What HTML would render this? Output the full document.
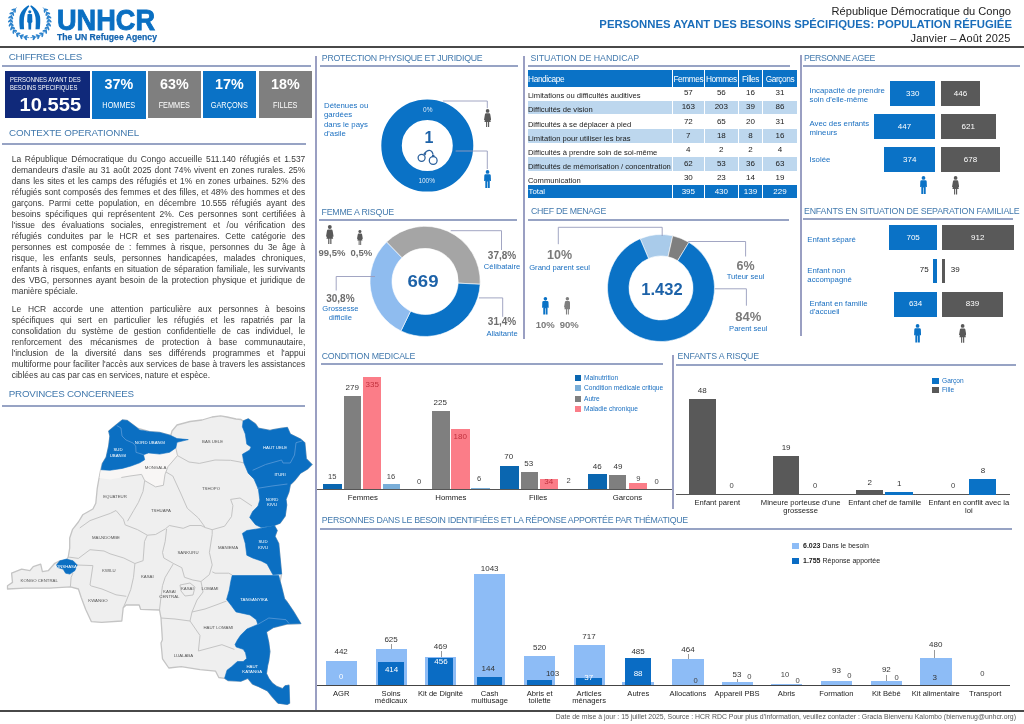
<!DOCTYPE html>
<html lang="fr">
<head>
<meta charset="utf-8">
<title>UNHCR - Personnes ayant des besoins spécifiques</title>
<style>
*{margin:0;padding:0;box-sizing:border-box}
html,body{width:1024px;height:724px;overflow:hidden;background:#fff}
body{position:relative;font-family:"Liberation Sans",Arial,sans-serif;color:#222}
.a{position:absolute;white-space:nowrap}
.t{position:absolute;white-space:nowrap;font-size:10px;line-height:10px;color:#4279ad;letter-spacing:-0.1px}
.ul{position:absolute;height:2px;background:#97a3c4}
.vs{position:absolute;width:2px;background:#9a9fc2}
.hl{position:absolute;background:#8a9ac4}
.box{position:absolute;color:#fff;text-align:center}
.bx{position:absolute}
.para div{height:11px;line-height:11px;white-space:nowrap;text-align:justify;text-align-last:justify}
.para div.l{text-align-last:left}
.lbl{position:absolute;white-space:nowrap;font-size:8px;line-height:9px;color:#1a6fc0}
.num{position:absolute;white-space:nowrap;font-size:8px;line-height:8px;color:#333;text-align:center}
</style>
</head>
<body>

<!-- ================= HEADER ================= -->
<svg class="a" style="left:5px;top:2px" width="50" height="40" viewBox="5 2 50 40">
 <g fill="none" stroke="#2b82cc" stroke-width="0.8"><path d="M16.50 7.50 C9.50 14.50 8.50 25.00 15.00 32.00"/><path d="M43.10 7.50 C50.10 14.50 51.10 25.00 44.60 32.00"/><path d="M15.00 32.00 C19.00 36.00 24.00 37.60 29.20 37.60"/><path d="M44.60 32.00 C40.60 36.00 35.60 37.60 30.40 37.60"/></g>
 <g fill="#2b82cc"><ellipse cx="14.97" cy="10.84" rx="2.05" ry="0.95" transform="rotate(88.7 14.97 10.84)"/><ellipse cx="13.37" cy="9.56" rx="2.05" ry="0.95" transform="rotate(168.7 13.37 9.56)"/><ellipse cx="13.11" cy="14.12" rx="2.05" ry="0.95" transform="rotate(77.6 13.11 14.12)"/><ellipse cx="11.29" cy="13.16" rx="2.05" ry="0.95" transform="rotate(157.6 11.29 13.16)"/><ellipse cx="11.99" cy="17.56" rx="2.05" ry="0.95" transform="rotate(66.1 11.99 17.56)"/><ellipse cx="10.01" cy="16.99" rx="2.05" ry="0.95" transform="rotate(146.1 10.01 16.99)"/><ellipse cx="11.63" cy="21.05" rx="2.05" ry="0.95" transform="rotate(54.1 11.63 21.05)"/><ellipse cx="9.57" cy="20.90" rx="2.05" ry="0.95" transform="rotate(134.1 9.57 20.90)"/><ellipse cx="12.03" cy="24.47" rx="2.05" ry="0.95" transform="rotate(41.5 12.03 24.47)"/><ellipse cx="9.99" cy="24.77" rx="2.05" ry="0.95" transform="rotate(121.5 9.99 24.77)"/><ellipse cx="13.19" cy="27.70" rx="2.05" ry="0.95" transform="rotate(28.2 13.19 27.70)"/><ellipse cx="11.28" cy="28.47" rx="2.05" ry="0.95" transform="rotate(108.2 11.28 28.47)"/><ellipse cx="15.13" cy="30.66" rx="2.05" ry="0.95" transform="rotate(14.8 15.13 30.66)"/><ellipse cx="13.45" cy="31.85" rx="2.05" ry="0.95" transform="rotate(94.8 13.45 31.85)"/><ellipse cx="18.46" cy="33.57" rx="2.05" ry="0.95" transform="rotate(-2.4 18.46 33.57)"/><ellipse cx="17.21" cy="35.20" rx="2.05" ry="0.95" transform="rotate(77.6 17.21 35.20)"/><ellipse cx="22.05" cy="35.40" rx="2.05" ry="0.95" transform="rotate(-15.7 22.05 35.40)"/><ellipse cx="21.20" cy="37.27" rx="2.05" ry="0.95" transform="rotate(64.3 21.20 37.27)"/><ellipse cx="26.00" cy="36.39" rx="2.05" ry="0.95" transform="rotate(-28.4 26.00 36.39)"/><ellipse cx="25.59" cy="38.40" rx="2.05" ry="0.95" transform="rotate(51.6 25.59 38.40)"/><ellipse cx="44.63" cy="10.84" rx="2.05" ry="0.95" transform="rotate(91.3 44.63 10.84)"/><ellipse cx="46.23" cy="9.56" rx="2.05" ry="0.95" transform="rotate(11.3 46.23 9.56)"/><ellipse cx="46.49" cy="14.12" rx="2.05" ry="0.95" transform="rotate(102.4 46.49 14.12)"/><ellipse cx="48.31" cy="13.16" rx="2.05" ry="0.95" transform="rotate(22.4 48.31 13.16)"/><ellipse cx="47.61" cy="17.56" rx="2.05" ry="0.95" transform="rotate(113.9 47.61 17.56)"/><ellipse cx="49.59" cy="16.99" rx="2.05" ry="0.95" transform="rotate(33.9 49.59 16.99)"/><ellipse cx="47.97" cy="21.05" rx="2.05" ry="0.95" transform="rotate(125.9 47.97 21.05)"/><ellipse cx="50.03" cy="20.90" rx="2.05" ry="0.95" transform="rotate(45.9 50.03 20.90)"/><ellipse cx="47.57" cy="24.47" rx="2.05" ry="0.95" transform="rotate(138.5 47.57 24.47)"/><ellipse cx="49.61" cy="24.77" rx="2.05" ry="0.95" transform="rotate(58.5 49.61 24.77)"/><ellipse cx="46.41" cy="27.70" rx="2.05" ry="0.95" transform="rotate(151.8 46.41 27.70)"/><ellipse cx="48.32" cy="28.47" rx="2.05" ry="0.95" transform="rotate(71.8 48.32 28.47)"/><ellipse cx="44.47" cy="30.66" rx="2.05" ry="0.95" transform="rotate(165.2 44.47 30.66)"/><ellipse cx="46.15" cy="31.85" rx="2.05" ry="0.95" transform="rotate(85.2 46.15 31.85)"/><ellipse cx="41.14" cy="33.57" rx="2.05" ry="0.95" transform="rotate(182.4 41.14 33.57)"/><ellipse cx="42.39" cy="35.20" rx="2.05" ry="0.95" transform="rotate(102.4 42.39 35.20)"/><ellipse cx="37.55" cy="35.40" rx="2.05" ry="0.95" transform="rotate(195.7 37.55 35.40)"/><ellipse cx="38.40" cy="37.27" rx="2.05" ry="0.95" transform="rotate(115.7 38.40 37.27)"/><ellipse cx="33.60" cy="36.39" rx="2.05" ry="0.95" transform="rotate(208.4 33.60 36.39)"/><ellipse cx="34.01" cy="38.40" rx="2.05" ry="0.95" transform="rotate(128.4 34.01 38.40)"/></g>
 <g fill="#0a6fc2">
  <path d="M28.6 5.2 C24 7.8 20.3 12 19.5 17 C19.1 21 19.4 25 19.9 29.3 L24.1 29.3 C23.8 25 23.7 21 24.1 17.5 C24.7 13.5 26.6 9.5 29.3 6.3Z"/>
  <path d="M31 5.2 C35.6 7.8 39.3 12 40.1 17 C40.5 21 40.2 25 39.7 29.3 L35.5 29.3 C35.8 25 35.9 21 35.5 17.5 C34.9 13.5 33 9.5 30.3 6.3Z"/>
  <circle cx="29.8" cy="11.7" r="1.55"/>
  <path d="M27.5 14.2 Q29.8 13.1 32.1 14.2 L32.4 22 L31.3 23 L31.1 29.6 L28.5 29.6 L28.3 23 L27.2 22Z"/>
 </g>
</svg>
<div class="a" style="left:56.5px;top:3.5px;font-size:29.5px;line-height:32px;font-weight:bold;color:#0a6fc2;-webkit-text-stroke:0.9px #0a6fc2;transform:scaleX(0.92);transform-origin:0 0">UNHCR</div>
<div class="a" style="left:57px;top:31.5px;font-size:9.6px;line-height:10px;font-weight:bold;color:#1565b0;-webkit-text-stroke:0.25px #1565b0;transform:scaleX(0.9);transform-origin:0 0">The UN Refugee Agency</div>

<div class="a" style="right:13px;top:5px;font-size:11.1px;line-height:12px;color:#222">République Démocratique du Congo</div>
<div class="a" style="right:12px;top:17.5px;font-size:11.35px;line-height:12px;font-weight:bold;color:#1a6dba">PERSONNES AYANT DES BESOINS SPÉCIFIQUES: POPULATION RÉFUGIÉE</div>
<div class="a" style="right:13.5px;top:31.5px;font-size:11px;line-height:12px;letter-spacing:0.14px;color:#222">Janvier – Août 2025</div>
<div class="bx" style="left:0;top:46.3px;width:1024px;height:1.8px;background:#484848"></div>


<!-- ================= LEFT COLUMN ================= -->
<div class="t" style="left:8.8px;top:52.1px;font-size:9.8px;letter-spacing:-0.32px">CHIFFRES CLES</div>
<div class="ul" style="left:2px;top:64.5px;width:309px"></div>

<div class="bx" style="left:4.5px;top:70.5px;width:85.5px;height:47px;background:#10297a"></div>
<div class="a" style="left:9.6px;top:75.66px;font-size:7.2px;line-height:8.6px;color:#fff;transform:scaleX(0.82);transform-origin:0 0">PERSONNES AYANT DES<br>BESOINS SPECIFIQUES</div>
<div class="a" style="left:4.5px;width:85.5px;top:94.62px;font-size:19px;line-height:20px;color:#fff;font-weight:bold;text-align:center;padding-left:5px;transform:scaleX(1.06)">10.555</div>
<div class="bx" style="left:92px;top:70.8px;width:53.6px;height:47.8px;background:#0a72c6"></div>
<div class="a" style="left:92px;width:53.6px;top:76.19px;font-size:15.4px;line-height:16px;color:#fff;font-weight:bold;text-align:center;transform:scaleX(0.93)">37%</div>
<div class="a" style="left:92px;width:53.6px;top:100.84px;font-size:8.5px;line-height:9px;color:#fff;text-align:center;transform:scaleX(0.86)">HOMMES</div>
<div class="bx" style="left:148px;top:70.8px;width:52.6px;height:47.0px;background:#7f7f7f"></div>
<div class="a" style="left:148px;width:52.6px;top:76.19px;font-size:15.4px;line-height:16px;color:#fff;font-weight:bold;text-align:center;transform:scaleX(0.93)">63%</div>
<div class="a" style="left:148px;width:52.6px;top:100.84px;font-size:8.5px;line-height:9px;color:#fff;text-align:center;transform:scaleX(0.86)">FEMMES</div>
<div class="bx" style="left:203.4px;top:70.8px;width:52.6px;height:47.5px;background:#0a72c6"></div>
<div class="a" style="left:203.4px;width:52.6px;top:76.19px;font-size:15.4px;line-height:16px;color:#fff;font-weight:bold;text-align:center;transform:scaleX(0.93)">17%</div>
<div class="a" style="left:203.4px;width:52.6px;top:100.84px;font-size:8.5px;line-height:9px;color:#fff;text-align:center;transform:scaleX(0.86)">GARÇONS</div>
<div class="bx" style="left:259px;top:70.8px;width:52.6px;height:47.0px;background:#7f7f7f"></div>
<div class="a" style="left:259px;width:52.6px;top:76.19px;font-size:15.4px;line-height:16px;color:#fff;font-weight:bold;text-align:center;transform:scaleX(0.93)">18%</div>
<div class="a" style="left:259px;width:52.6px;top:100.84px;font-size:8.5px;line-height:9px;color:#fff;text-align:center;transform:scaleX(0.86)">FILLES</div>

<div class="t" style="left:9px;top:127.6px;font-size:9.8px;letter-spacing:-0.1px">CONTEXTE OPERATIONNEL</div>
<div class="ul" style="left:2px;top:143px;width:303.5px"></div>

<div class="para a" style="left:11.7px;top:153.5px;width:293.6px;font-size:8.45px;color:#3a3a3a;white-space:normal">
<div>La République Démocratique du Congo accueille 511.140 réfugiés et 1.537</div>
<div>demandeurs d'asile au 31 août 2025 dont 74% vivent en zones rurales. 25%</div>
<div>dans les sites et les camps des réfugiés et 1% en zones urbaines. 52% des</div>
<div>réfugiés sont composés des femmes et des filles, et 48% des hommes et des</div>
<div>garçons. Parmi cette population, en décembre 10.555 réfugiés ayant des</div>
<div>besoins spécifiques qui représentent 2%. Ces personnes sont certifiées à</div>
<div>l'issue des évaluations sociales, enregistrement et /ou vérification des</div>
<div>réfugiés conduites par le HCR et ses partenaires. Cette catégorie des</div>
<div>personnes est composée de : femmes à risque, personnes du 3e âge à</div>
<div>risque, les enfants seuls, personnes handicapées, malades chroniques,</div>
<div>enfants à risques, enfants en situation de séparation familiale, les survivants</div>
<div>des VBG, personnes ayant besoin de la protection physique et juridique de</div>
<div class="l">manière spéciale.</div>
<div style="height:7px"></div>
<div>Le HCR accorde une attention particulière aux personnes à besoins</div>
<div>spécifiques qui sert en particulier les réfugiés et les rapatriés par la</div>
<div>consolidation du système de gestion confidentielle de cas individuel, le</div>
<div>renforcement des mécanismes de protection à base communautaire,</div>
<div>l'inclusion de la diversité dans ses différends programmes et l'appui</div>
<div>multiforme pour faciliter l'accès aux services de base à travers les assistances</div>
<div class="l">ciblées au cas par cas en services, nature et espèce.</div>
</div>

<div class="t" style="left:8.75px;top:388.6px;font-size:9.8px;letter-spacing:-0.22px">PROVINCES CONCERNEES</div>
<div class="ul" style="left:2px;top:405px;width:303px"></div>


<!--MAP-->
<svg class="a" style="left:0;top:0" width="320" height="710" viewBox="0 0 320 710">
<polygon points="108.7,431.0 116.0,425.0 122.3,420.0 127.3,420.5 137.3,428.0 149.7,431.7 159.7,432.4 170.8,435.5 172.0,431.0 177.0,425.0 190.0,421.5 202.0,420.0 212.0,417.0 220.6,415.9 227.0,417.0 236.0,419.0 241.0,419.5 243.1,421.0 248.2,418.8 255.5,423.9 258.4,428.2 270.0,430.4 272.9,429.7 281.6,428.2 287.4,427.5 290.3,434.0 300.5,439.1 304.8,442.7 306.3,458.7 312.0,464.5 307.7,468.9 300.5,473.2 294.7,480.5 290.3,484.8 288.9,492.0 286.0,499.3 286.7,505.0 285.2,516.0 280.1,523.2 274.3,525.4 277.2,530.5 275.0,536.3 278.7,543.5 280.1,558.0 281.6,574.0 280.1,581.3 281.6,587.0 284.5,598.7 287.5,602.5 293.8,611.9 300.8,623.6 287.0,624.0 273.4,627.5 266.4,632.0 268.7,642.3 269.9,651.6 268.7,660.9 267.6,665.5 266.4,673.6 268.7,678.3 272.2,683.0 276.8,686.4 282.6,688.7 285.0,685.8 289.0,685.2 289.6,703.2 287.3,704.4 278.0,703.2 272.2,696.8 267.6,691.0 258.3,686.4 252.5,684.1 247.8,678.3 240.9,681.2 228.1,680.6 224.6,678.3 218.8,677.5 215.6,671.2 200.0,669.7 181.2,666.6 168.8,668.0 162.5,658.8 161.0,643.0 162.4,639.8 161.0,618.0 159.5,610.0 140.6,609.3 139.2,605.0 126.1,605.0 123.2,607.9 121.8,621.0 101.6,622.4 91.4,621.7 85.6,609.3 81.3,597.7 78.4,589.0 70.4,586.9 49.8,588.2 24.9,588.2 7.5,589.0 7.5,585.7 12.5,582.4 11.6,573.2 21.6,569.1 29.9,570.7 33.2,566.6 40.7,564.1 42.4,571.6 48.2,570.7 54.8,563.3 59.8,560.8 66.0,561.3 68.2,557.0 69.7,548.2 69.7,538.0 72.6,529.3 78.4,522.0 82.7,514.8 92.9,509.0 95.8,503.2 97.2,488.7 98.7,480.0 100.6,470.3 102.4,463.5 106.2,457.2 108.7,446.0 109.9,436.1" fill="#efefef" stroke="#c4c4c4" stroke-width="1.3" stroke-linejoin="round"/>
<polygon points="100.6,470.3 109.9,470.3 122.3,468.4 131.0,466.0 139.7,462.8 144.7,459.7 143.5,454.7 148.5,452.9 159.7,454.1 169.6,452.3 175.8,447.9 177.5,455.6 172.0,462.0 168.0,466.6 165.0,474.4 163.4,485.3 155.6,486.9 144.7,480.6 141.6,474.4 130.0,476.0 121.3,477.5 110.0,479.5 99.5,478.0" fill="#f8f6f5" stroke="none"/>
<g fill="none" stroke="#c4c4c4" stroke-width="1" stroke-linejoin="round">
<polyline points="121.3,477.5 130.0,476.0 141.6,474.4 144.7,480.6 155.6,486.9 163.4,485.3 165.0,474.4 168.0,466.6 172.0,462.0 177.5,455.6 175.8,447.9"/>
<polyline points="177.5,455.6 189.0,462.0 199.4,463.4 215.0,460.0 230.6,460.3 240.0,462.0 243.9,463.0"/>
<polyline points="144.7,480.6 143.0,491.5 138.4,502.5 133.8,510.3 127.5,521.2"/>
<polyline points="166.0,472.0 172.8,476.0 180.6,493.0 187.3,508.3 198.4,518.0 205.3,527.6"/>
<polyline points="252.0,506.0 246.0,502.0 240.0,498.0 230.6,499.4 232.9,505.5 231.5,516.6 224.6,526.2 212.2,529.7"/>
<polyline points="125.2,524.9 137.6,529.7 147.3,535.2 155.6,534.5 165.2,529.0 169.4,525.5 183.2,528.3 190.0,525.5 201.0,525.5 205.3,527.6 212.2,529.7"/>
<polyline points="79.8,527.9 90.0,520.6 100.0,517.0 110.3,513.4 116.0,510.5 123.4,519.2 125.2,524.9"/>
<polyline points="68.2,557.0 78.4,558.4 90.0,549.7 104.0,551.0 110.0,553.8 123.8,558.0 134.9,563.5 143.1,560.7"/>
<polyline points="147.3,535.2 144.5,541.4 143.1,560.7"/>
<polyline points="134.9,563.5 133.5,577.3 130.7,589.7 126.6,600.0 123.2,607.9"/>
<polyline points="76.9,565.0 92.9,565.6 90.0,585.0 91.4,586.0 102.0,589.0 116.0,594.8 126.3,596.3"/>
<polyline points="70.4,586.9 71.1,577.4 73.0,573.0"/>
<polyline points="166.6,529.0 165.2,541.4 162.5,552.5 163.8,558.0 173.5,563.5 181.8,567.7 184.5,577.3 192.8,580.0 201.0,581.5 209.4,574.6 212.2,564.9 209.4,552.5 212.2,534.5 212.2,529.7"/>
<polyline points="173.5,563.5 165.2,577.3 162.5,585.6 161.0,596.6 159.5,610.0"/>
<polyline points="161.0,618.0 175.0,619.0 190.0,621.0 200.0,635.5 198.4,651.0 221.9,644.7 234.4,649.4"/>
<polyline points="190.0,621.0 192.0,612.0 205.0,609.0 216.0,605.0 226.6,601.0"/>
<polyline points="201.0,581.5 203.0,592.0 197.0,600.0 192.0,612.0"/>
<polyline points="212.2,571.8 215.0,573.2 228.7,573.2 232.2,575.0"/>
<polygon points="180.0,585.0 190.0,583.0 195.0,587.0 193.0,595.0 185.0,596.0 181.0,591.0"/>
</g>
<g fill="#0b6fc2" stroke="#0b6fc2" stroke-width="0.6" stroke-linejoin="round">
<polygon points="108.7,431.1 116.0,425.0 122.3,419.9 127.3,420.5 137.3,428.0 139.7,429.9 149.7,431.7 159.7,432.4 170.8,435.5 177.0,438.6 188.3,439.6 177.0,442.3 175.8,447.9 169.6,452.3 159.7,454.1 148.5,452.9 143.5,454.7 144.7,459.7 139.7,462.8 131.0,466.0 122.3,468.4 109.9,470.3 101.2,469.7 102.4,463.5 106.2,457.2 108.7,446.0 109.9,436.1"/>
<polygon points="243.1,421.0 248.2,418.8 255.5,423.9 258.4,428.2 270.0,430.4 272.9,429.7 281.6,428.2 287.4,427.5 290.3,434.0 300.5,439.1 304.8,442.7 306.3,458.7 312.0,464.5 307.7,468.9 300.5,473.2 294.7,480.5 290.3,484.8 288.9,492.0 286.0,499.3 286.7,505.0 285.2,516.0 280.1,523.2 274.3,525.4 261.3,527.6 255.5,524.7 249.7,517.4 252.6,511.6 258.0,506.0 259.8,500.0 258.4,489.2 254.0,479.0 248.2,473.2 243.9,463.0 242.4,454.3 249.7,450.0 251.1,447.0 246.8,444.2 245.3,434.0 242.4,426.8"/>
<polygon points="261.3,528.3 274.3,525.4 277.2,530.5 275.0,536.3 278.7,543.5 280.1,558.0 281.6,574.0 272.9,574.7 267.0,563.9 261.3,561.0 252.6,558.0 246.8,555.2 245.3,543.5 242.4,533.4 246.8,530.5"/>
<polygon points="232.2,575.5 278.7,575.5 280.1,581.3 281.6,587.0 284.5,598.7 287.5,602.5 293.8,611.9 300.8,623.6 287.0,624.0 273.4,627.5 266.4,632.0 268.7,642.3 269.9,651.6 268.7,660.9 267.6,665.5 266.4,673.6 268.7,678.3 272.2,683.0 276.8,686.4 282.6,688.7 285.0,685.8 289.0,685.2 289.6,703.2 287.3,704.4 278.0,703.2 272.2,696.8 267.6,691.0 258.3,686.4 252.5,684.1 247.8,678.3 240.9,681.2 228.1,680.6 224.6,678.3 227.0,670.2 231.6,666.7 237.4,661.5 243.2,661.5 246.7,658.6 245.5,652.8 243.2,649.3 236.2,647.0 235.0,644.6 237.4,640.0 240.6,635.3 246.9,629.0 257.8,624.4 256.3,619.7 250.0,615.0 236.0,611.9 231.3,605.6 226.6,599.4 229.3,590.0 230.8,581.3"/>
<polygon points="56.5,564.9 59.8,560.8 66.4,559.1 73.1,560.8 77.2,564.9 74.8,570.7 69.8,574.1 65.6,573.2 63.1,569.1 57.3,567.4"/>
</g>
<g fill="none" stroke="#5b9ad8" stroke-width="0.8">
<polyline points="116.7,425.5 121.0,428.0 122.0,436.0 126.0,440.0 133.0,443.0 135.7,446.0 136.0,452.3 143.5,454.7"/>
<polyline points="252.6,470.3 265.6,464.5 281.6,460.0 283.0,463.0 290.3,463.0 294.5,455.0 296.0,442.7 302.0,441.0"/>
<polyline points="257.0,488.4 272.0,486.0 287.4,484.0"/>
<polyline points="257.8,624.4 268.8,618.0 286.0,619.7 289.0,623.5"/>
</g>
<text x="150" y="444" fill="#ffffff" font-size="4.3" text-anchor="middle" font-family="Liberation Sans, sans-serif">NORD UBANGI</text>
<text x="118" y="451" fill="#ffffff" font-size="4.3" text-anchor="middle" font-family="Liberation Sans, sans-serif">SUD</text>
<text x="118" y="456.5" fill="#ffffff" font-size="4.3" text-anchor="middle" font-family="Liberation Sans, sans-serif">UBANGI</text>
<text x="212.6" y="443" fill="#555" font-size="4.3" text-anchor="middle" font-family="Liberation Sans, sans-serif">BAS UELE</text>
<text x="275" y="449" fill="#ffffff" font-size="4.3" text-anchor="middle" font-family="Liberation Sans, sans-serif">HAUT UELE</text>
<text x="280" y="476" fill="#ffffff" font-size="4.3" text-anchor="middle" font-family="Liberation Sans, sans-serif">ITURI</text>
<text x="272" y="500.5" fill="#ffffff" font-size="4.3" text-anchor="middle" font-family="Liberation Sans, sans-serif">NORD</text>
<text x="272" y="506" fill="#ffffff" font-size="4.3" text-anchor="middle" font-family="Liberation Sans, sans-serif">KIVU</text>
<text x="263" y="543" fill="#ffffff" font-size="4.3" text-anchor="middle" font-family="Liberation Sans, sans-serif">SUD</text>
<text x="263" y="548.5" fill="#ffffff" font-size="4.3" text-anchor="middle" font-family="Liberation Sans, sans-serif">KIVU</text>
<text x="211" y="489.5" fill="#555" font-size="4.3" text-anchor="middle" font-family="Liberation Sans, sans-serif">TSHOPO</text>
<text x="155.6" y="469" fill="#555" font-size="4.3" text-anchor="middle" font-family="Liberation Sans, sans-serif">MONGALA</text>
<text x="115" y="498" fill="#555" font-size="4.3" text-anchor="middle" font-family="Liberation Sans, sans-serif">EQUATEUR</text>
<text x="161" y="512" fill="#555" font-size="4.3" text-anchor="middle" font-family="Liberation Sans, sans-serif">TSHUAPA</text>
<text x="106" y="539" fill="#555" font-size="4.3" text-anchor="middle" font-family="Liberation Sans, sans-serif">MAI-NDOMBE</text>
<text x="188" y="553.5" fill="#555" font-size="4.3" text-anchor="middle" font-family="Liberation Sans, sans-serif">SANKURU</text>
<text x="228" y="549.3" fill="#555" font-size="4.3" text-anchor="middle" font-family="Liberation Sans, sans-serif">MANIEMA</text>
<text x="66" y="568" fill="#ffffff" font-size="4.3" text-anchor="middle" font-family="Liberation Sans, sans-serif">KINSHASA</text>
<text x="108.9" y="571.7" fill="#555" font-size="4.3" text-anchor="middle" font-family="Liberation Sans, sans-serif">KWILU</text>
<text x="147.3" y="578.3" fill="#555" font-size="4.3" text-anchor="middle" font-family="Liberation Sans, sans-serif">KASAI</text>
<text x="169.4" y="593" fill="#555" font-size="4.3" text-anchor="middle" font-family="Liberation Sans, sans-serif">KASAI</text>
<text x="169.4" y="598" fill="#555" font-size="4.3" text-anchor="middle" font-family="Liberation Sans, sans-serif">CENTRAL</text>
<text x="187.3" y="589.5" fill="#555" font-size="4.3" text-anchor="middle" font-family="Liberation Sans, sans-serif">KASAI</text>
<text x="210" y="589.5" fill="#555" font-size="4.3" text-anchor="middle" font-family="Liberation Sans, sans-serif">LOMAMI</text>
<text x="254" y="601" fill="#ffffff" font-size="4.3" text-anchor="middle" font-family="Liberation Sans, sans-serif">TANGANYIKA</text>
<text x="39.2" y="581.7" fill="#555" font-size="4.3" text-anchor="middle" font-family="Liberation Sans, sans-serif">KONGO CENTRAL</text>
<text x="98" y="602.3" fill="#555" font-size="4.3" text-anchor="middle" font-family="Liberation Sans, sans-serif">KWANGO</text>
<text x="218.3" y="628.5" fill="#555" font-size="4.3" text-anchor="middle" font-family="Liberation Sans, sans-serif">HAUT LOMAMI</text>
<text x="183.4" y="656.7" fill="#555" font-size="4.3" text-anchor="middle" font-family="Liberation Sans, sans-serif">LUALABA</text>
<text x="252.3" y="667.5" fill="#ffffff" font-size="4.3" text-anchor="middle" font-family="Liberation Sans, sans-serif">HAUT</text>
<text x="252.3" y="673" fill="#ffffff" font-size="4.3" text-anchor="middle" font-family="Liberation Sans, sans-serif">KATANGA</text>
</svg>
<!--/MAP-->
<div class="t" style="left:321.8px;top:52.85px;font-size:8.8px;letter-spacing:-0.26px;transform:scaleY(1.12);transform-origin:0 8.05px">PROTECTION PHYSIQUE ET JURIDIQUE</div>
<div class="ul" style="left:319.5px;top:65px;width:198px"></div>
<svg class="a" style="left:0;top:0;overflow:visible" width="1" height="1">
<circle cx="427.3" cy="145.6" r="35.75" fill="none" stroke="#0a72c6" stroke-width="20.5"/>
</svg>
<div class="a" style="left:427.80px;top:109.50px;font-size:6.5px;line-height:7.47px;color:#dbe9f7;transform:translate(-50%,-50%);">0%</div>
<div class="a" style="left:426.70px;top:181.00px;font-size:6.5px;line-height:7.47px;color:#dbe9f7;transform:translate(-50%,-50%);">100%</div>
<div class="a" style="left:429.00px;top:137.80px;font-size:16px;line-height:18.40px;color:#1d62a8;font-weight:bold;transform:translate(-50%,-50%);">1</div>
<svg class="a" style="left:415px;top:148px" width="24" height="19" viewBox="0 0 24 19"><g fill="none" stroke="#2a5f9b" stroke-width="1.25"><circle cx="6.6" cy="9.8" r="3.5"/><circle cx="18.2" cy="12.5" r="3.9"/><path d="M9.6 5.6 Q11.6 2.2 14.4 2.4 Q17.2 2.7 18.1 6.6"/></g><rect x="8.6" y="5" width="2.4" height="1.9" fill="#2a5f9b" transform="rotate(35 9.8 6)"/><rect x="17" y="6.9" width="2.4" height="1.9" fill="#2a5f9b"/></svg>
<svg class="a" style="left:0;top:0;overflow:visible" width="1" height="1"><polyline points="442.8,101.0 487.3,101.0 487.3,108.2" fill="none" stroke="#979cbc" stroke-width="0.9"/></svg>
<svg class="a" style="left:0;top:0;overflow:visible" width="1" height="1"><polyline points="455.6,151.0 487.3,151.0 487.3,169.0" fill="none" stroke="#979cbc" stroke-width="0.9"/></svg>
<svg class="a" style="left:483.68px;top:108.80px" width="7.23" height="18.60" viewBox="0 0 7 18"><g fill="#595959"><circle cx="3.5" cy="1.9" r="1.8"/><path d="M2 4.2 H5 Q5.9 4.3 6.1 5.3 L7 10.6 L6.1 10.8 L5.5 8.4 L6.6 12.6 H5 V18 H3.9 V12.6 H3.1 V18 H2 V12.6 H0.4 L1.5 8.4 L0.9 10.8 L0 10.6 L0.9 5.3 Q1.1 4.3 2 4.2Z"/></g></svg>
<svg class="a" style="left:483.76px;top:170.30px" width="7.08" height="18.20" viewBox="0 0 7 18"><g fill="#0a72c6"><circle cx="3.5" cy="1.9" r="1.85"/><path d="M1.6 4.2 H5.4 Q6.6 4.2 6.7 5.5 L6.9 11 H5.9 L5.7 10 V18 H3.8 V11.5 H3.2 V18 H1.3 V10 L1.1 11 H0.1 L0.3 5.5 Q0.4 4.2 1.6 4.2Z"/></g></svg>
<div class="a" style="left:324.00px;top:106.00px;font-size:7.8px;line-height:8.97px;color:#1a6fc0;transform:translate(0,-50%);">Détenues ou</div>
<div class="a" style="left:324.00px;top:115.30px;font-size:7.8px;line-height:8.97px;color:#1a6fc0;transform:translate(0,-50%);">gardées</div>
<div class="a" style="left:324.00px;top:124.60px;font-size:7.8px;line-height:8.97px;color:#1a6fc0;transform:translate(0,-50%);">dans le pays</div>
<div class="a" style="left:324.00px;top:133.90px;font-size:7.8px;line-height:8.97px;color:#1a6fc0;transform:translate(0,-50%);">d'asile</div>
<div class="t" style="left:321.5px;top:206.85px;font-size:8.8px;letter-spacing:-0.2px;transform:scaleY(1.12);transform-origin:0 8.05px">FEMME A RISQUE</div>
<div class="ul" style="left:318.5px;top:218.5px;width:198.5px"></div>
<svg class="a" style="left:0;top:0;overflow:visible" width="1" height="1">
<path d="M386.55,242.03 A55.1,55.1 0 0 1 480.12,284.28 L458.15,283.13 A33.1,33.1 0 0 0 401.94,257.75Z" fill="#a5a5a5" stroke="#fff" stroke-width="0.6"/>
<path d="M480.12,284.28 A55.1,55.1 0 0 1 400.95,330.92 L410.59,311.15 A33.1,33.1 0 0 0 458.15,283.13Z" fill="#0a72c6" stroke="#fff" stroke-width="0.6"/>
<path d="M400.95,330.92 A55.1,55.1 0 0 1 386.55,242.03 L401.94,257.75 A33.1,33.1 0 0 0 410.59,311.15Z" fill="#8fbcef" stroke="#fff" stroke-width="0.6"/>
</svg>
<div class="a" style="left:423.40px;top:281.80px;font-size:16px;line-height:18.40px;color:#1d62a8;font-weight:bold;transform:translate(-50%,-50%) scaleX(1.16)">669</div>
<svg class="a" style="left:326.19px;top:224.80px" width="7.62" height="19.60" viewBox="0 0 7 18"><g fill="#595959"><circle cx="3.5" cy="1.9" r="1.8"/><path d="M2 4.2 H5 Q5.9 4.3 6.1 5.3 L7 10.6 L6.1 10.8 L5.5 8.4 L6.6 12.6 H5 V18 H3.9 V12.6 H3.1 V18 H2 V12.6 H0.4 L1.5 8.4 L0.9 10.8 L0 10.6 L0.9 5.3 Q1.1 4.3 2 4.2Z"/></g></svg>
<svg class="a" style="left:356.88px;top:229.80px" width="5.83" height="15.00" viewBox="0 0 7 18"><g fill="#595959"><circle cx="3.5" cy="1.9" r="1.8"/><path d="M2 4.2 H5 Q5.9 4.3 6.1 5.3 L7 10.6 L6.1 10.8 L5.5 8.4 L6.6 12.6 H5 V18 H3.9 V12.6 H3.1 V18 H2 V12.6 H0.4 L1.5 8.4 L0.9 10.8 L0 10.6 L0.9 5.3 Q1.1 4.3 2 4.2Z"/></g></svg>
<div class="a" style="left:332.00px;top:252.70px;font-size:9.5px;line-height:10.92px;color:#6d6d6d;font-weight:bold;transform:translate(-50%,-50%);">99,5%</div>
<div class="a" style="left:361.40px;top:252.70px;font-size:9.5px;line-height:10.92px;color:#6d6d6d;font-weight:bold;transform:translate(-50%,-50%);">0,5%</div>
<svg class="a" style="left:0;top:0;overflow:visible" width="1" height="1"><polyline points="450.7,230.7 501.5,230.7 501.5,250.0" fill="none" stroke="#979cbc" stroke-width="0.9"/></svg>
<div class="a" style="left:502.00px;top:256.00px;font-size:10px;line-height:11.50px;color:#6d6d6d;font-weight:bold;transform:translate(-50%,-50%);">37,8%</div>
<div class="a" style="left:502.00px;top:267.00px;font-size:7.6px;line-height:8.74px;color:#1a6fc0;transform:translate(-50%,-50%);">Célibataire</div>
<div class="bx" style="left:520.20px;top:261.00px;width:2.60px;height:12.00px;background:#fff;"></div>
<svg class="a" style="left:0;top:0;overflow:visible" width="1" height="1"><polyline points="375.0,276.5 336.2,276.5 336.2,290.5" fill="none" stroke="#979cbc" stroke-width="0.9"/></svg>
<div class="a" style="left:340.40px;top:299.00px;font-size:10px;line-height:11.50px;color:#6d6d6d;font-weight:bold;transform:translate(-50%,-50%);">30,8%</div>
<div class="a" style="left:340.40px;top:308.60px;font-size:7.6px;line-height:8.74px;color:#1a6fc0;transform:translate(-50%,-50%);">Grossesse</div>
<div class="a" style="left:340.40px;top:317.60px;font-size:7.6px;line-height:8.74px;color:#1a6fc0;transform:translate(-50%,-50%);">difficile</div>
<svg class="a" style="left:0;top:0;overflow:visible" width="1" height="1"><polyline points="479.0,297.9 502.7,297.9 502.7,316.8" fill="none" stroke="#979cbc" stroke-width="0.9"/></svg>
<div class="a" style="left:502.00px;top:322.20px;font-size:10px;line-height:11.50px;color:#6d6d6d;font-weight:bold;transform:translate(-50%,-50%);">31,4%</div>
<div class="a" style="left:502.00px;top:333.60px;font-size:7.6px;line-height:8.74px;color:#1a6fc0;transform:translate(-50%,-50%);">Allaitante</div>
<div class="t" style="left:530.4px;top:52.85px;font-size:8.8px;letter-spacing:0px;transform:scaleY(1.12);transform-origin:0 8.05px">SITUATION DE HANDICAP</div>
<div class="ul" style="left:528.3px;top:65.2px;width:261.3px"></div>
<div class="bx" style="left:527.60px;top:70.40px;width:144.60px;height:16.20px;background:#0a72c6;"></div>
<div class="bx" style="left:672.80px;top:70.40px;width:31.10px;height:16.20px;background:#0a72c6;"></div>
<div class="bx" style="left:705.00px;top:70.40px;width:32.70px;height:16.20px;background:#0a72c6;"></div>
<div class="bx" style="left:738.60px;top:70.40px;width:23.80px;height:16.20px;background:#0a72c6;"></div>
<div class="bx" style="left:763.40px;top:70.40px;width:33.20px;height:16.20px;background:#0a72c6;"></div>
<div class="a" style="left:528.10px;top:80.00px;font-size:8.3px;line-height:9.54px;color:#fff;transform:translate(0,-50%);letter-spacing:-0.4px">Handicape</div>
<div class="a" style="left:688.35px;top:80.00px;font-size:8.3px;line-height:9.54px;color:#fff;transform:translate(-50%,-50%);letter-spacing:-0.4px">Femmes</div>
<div class="a" style="left:721.35px;top:80.00px;font-size:8.3px;line-height:9.54px;color:#fff;transform:translate(-50%,-50%);letter-spacing:-0.4px">Hommes</div>
<div class="a" style="left:750.50px;top:80.00px;font-size:8.3px;line-height:9.54px;color:#fff;transform:translate(-50%,-50%);letter-spacing:-0.4px">Filles</div>
<div class="a" style="left:780.00px;top:80.00px;font-size:8.3px;line-height:9.54px;color:#fff;transform:translate(-50%,-50%);letter-spacing:-0.4px">Garçons</div>
<div class="a" style="left:527.90px;top:96.15px;font-size:7.6px;line-height:8.74px;color:#1a1a1a;transform:translate(0,-50%);">Limitations ou difficultés auditives</div>
<div class="a" style="left:688.35px;top:93.15px;font-size:8px;line-height:9.20px;color:#1a1a1a;transform:translate(-50%,-50%);">57</div>
<div class="a" style="left:721.35px;top:93.15px;font-size:8px;line-height:9.20px;color:#1a1a1a;transform:translate(-50%,-50%);">56</div>
<div class="a" style="left:750.50px;top:93.15px;font-size:8px;line-height:9.20px;color:#1a1a1a;transform:translate(-50%,-50%);">16</div>
<div class="a" style="left:780.00px;top:93.15px;font-size:8px;line-height:9.20px;color:#1a1a1a;transform:translate(-50%,-50%);">31</div>
<div class="bx" style="left:527.60px;top:100.50px;width:144.60px;height:13.70px;background:#bdd7ee;"></div>
<div class="bx" style="left:672.80px;top:100.50px;width:31.10px;height:13.70px;background:#bdd7ee;"></div>
<div class="bx" style="left:705.00px;top:100.50px;width:32.70px;height:13.70px;background:#bdd7ee;"></div>
<div class="bx" style="left:738.60px;top:100.50px;width:23.80px;height:13.70px;background:#bdd7ee;"></div>
<div class="bx" style="left:763.40px;top:100.50px;width:33.20px;height:13.70px;background:#bdd7ee;"></div>
<div class="a" style="left:527.90px;top:110.25px;font-size:7.6px;line-height:8.74px;color:#1a1a1a;transform:translate(0,-50%);">Difficultés de vision</div>
<div class="a" style="left:688.35px;top:107.25px;font-size:8px;line-height:9.20px;color:#1a1a1a;transform:translate(-50%,-50%);">163</div>
<div class="a" style="left:721.35px;top:107.25px;font-size:8px;line-height:9.20px;color:#1a1a1a;transform:translate(-50%,-50%);">203</div>
<div class="a" style="left:750.50px;top:107.25px;font-size:8px;line-height:9.20px;color:#1a1a1a;transform:translate(-50%,-50%);">39</div>
<div class="a" style="left:780.00px;top:107.25px;font-size:8px;line-height:9.20px;color:#1a1a1a;transform:translate(-50%,-50%);">86</div>
<div class="a" style="left:527.90px;top:124.50px;font-size:7.6px;line-height:8.74px;color:#1a1a1a;transform:translate(0,-50%);">Difficultés à se déplacer à pied</div>
<div class="a" style="left:688.35px;top:121.50px;font-size:8px;line-height:9.20px;color:#1a1a1a;transform:translate(-50%,-50%);">72</div>
<div class="a" style="left:721.35px;top:121.50px;font-size:8px;line-height:9.20px;color:#1a1a1a;transform:translate(-50%,-50%);">65</div>
<div class="a" style="left:750.50px;top:121.50px;font-size:8px;line-height:9.20px;color:#1a1a1a;transform:translate(-50%,-50%);">20</div>
<div class="a" style="left:780.00px;top:121.50px;font-size:8px;line-height:9.20px;color:#1a1a1a;transform:translate(-50%,-50%);">31</div>
<div class="bx" style="left:527.60px;top:129.00px;width:144.60px;height:13.60px;background:#bdd7ee;"></div>
<div class="bx" style="left:672.80px;top:129.00px;width:31.10px;height:13.60px;background:#bdd7ee;"></div>
<div class="bx" style="left:705.00px;top:129.00px;width:32.70px;height:13.60px;background:#bdd7ee;"></div>
<div class="bx" style="left:738.60px;top:129.00px;width:23.80px;height:13.60px;background:#bdd7ee;"></div>
<div class="bx" style="left:763.40px;top:129.00px;width:33.20px;height:13.60px;background:#bdd7ee;"></div>
<div class="a" style="left:527.90px;top:138.70px;font-size:7.6px;line-height:8.74px;color:#1a1a1a;transform:translate(0,-50%);">Limitation pour utiliser les bras</div>
<div class="a" style="left:688.35px;top:135.70px;font-size:8px;line-height:9.20px;color:#1a1a1a;transform:translate(-50%,-50%);">7</div>
<div class="a" style="left:721.35px;top:135.70px;font-size:8px;line-height:9.20px;color:#1a1a1a;transform:translate(-50%,-50%);">18</div>
<div class="a" style="left:750.50px;top:135.70px;font-size:8px;line-height:9.20px;color:#1a1a1a;transform:translate(-50%,-50%);">8</div>
<div class="a" style="left:780.00px;top:135.70px;font-size:8px;line-height:9.20px;color:#1a1a1a;transform:translate(-50%,-50%);">16</div>
<div class="a" style="left:527.90px;top:152.85px;font-size:7.6px;line-height:8.74px;color:#1a1a1a;transform:translate(0,-50%);">Difficultés à prendre soin de soi-même</div>
<div class="a" style="left:688.35px;top:149.85px;font-size:8px;line-height:9.20px;color:#1a1a1a;transform:translate(-50%,-50%);">4</div>
<div class="a" style="left:721.35px;top:149.85px;font-size:8px;line-height:9.20px;color:#1a1a1a;transform:translate(-50%,-50%);">2</div>
<div class="a" style="left:750.50px;top:149.85px;font-size:8px;line-height:9.20px;color:#1a1a1a;transform:translate(-50%,-50%);">2</div>
<div class="a" style="left:780.00px;top:149.85px;font-size:8px;line-height:9.20px;color:#1a1a1a;transform:translate(-50%,-50%);">4</div>
<div class="bx" style="left:527.60px;top:157.30px;width:144.60px;height:13.40px;background:#bdd7ee;"></div>
<div class="bx" style="left:672.80px;top:157.30px;width:31.10px;height:13.40px;background:#bdd7ee;"></div>
<div class="bx" style="left:705.00px;top:157.30px;width:32.70px;height:13.40px;background:#bdd7ee;"></div>
<div class="bx" style="left:738.60px;top:157.30px;width:23.80px;height:13.40px;background:#bdd7ee;"></div>
<div class="bx" style="left:763.40px;top:157.30px;width:33.20px;height:13.40px;background:#bdd7ee;"></div>
<div class="a" style="left:527.90px;top:166.90px;font-size:7.6px;line-height:8.74px;color:#1a1a1a;transform:translate(0,-50%);">Difficultés de mémorisation / concentration</div>
<div class="a" style="left:688.35px;top:163.90px;font-size:8px;line-height:9.20px;color:#1a1a1a;transform:translate(-50%,-50%);">62</div>
<div class="a" style="left:721.35px;top:163.90px;font-size:8px;line-height:9.20px;color:#1a1a1a;transform:translate(-50%,-50%);">53</div>
<div class="a" style="left:750.50px;top:163.90px;font-size:8px;line-height:9.20px;color:#1a1a1a;transform:translate(-50%,-50%);">36</div>
<div class="a" style="left:780.00px;top:163.90px;font-size:8px;line-height:9.20px;color:#1a1a1a;transform:translate(-50%,-50%);">63</div>
<div class="a" style="left:527.90px;top:180.90px;font-size:7.6px;line-height:8.74px;color:#1a1a1a;transform:translate(0,-50%);">Communication</div>
<div class="a" style="left:688.35px;top:177.90px;font-size:8px;line-height:9.20px;color:#1a1a1a;transform:translate(-50%,-50%);">30</div>
<div class="a" style="left:721.35px;top:177.90px;font-size:8px;line-height:9.20px;color:#1a1a1a;transform:translate(-50%,-50%);">23</div>
<div class="a" style="left:750.50px;top:177.90px;font-size:8px;line-height:9.20px;color:#1a1a1a;transform:translate(-50%,-50%);">14</div>
<div class="a" style="left:780.00px;top:177.90px;font-size:8px;line-height:9.20px;color:#1a1a1a;transform:translate(-50%,-50%);">19</div>
<div class="bx" style="left:527.60px;top:185.30px;width:144.60px;height:12.30px;background:#0a72c6;"></div>
<div class="bx" style="left:672.80px;top:185.30px;width:31.10px;height:12.30px;background:#0a72c6;"></div>
<div class="bx" style="left:705.00px;top:185.30px;width:32.70px;height:12.30px;background:#0a72c6;"></div>
<div class="bx" style="left:738.60px;top:185.30px;width:23.80px;height:12.30px;background:#0a72c6;"></div>
<div class="bx" style="left:763.40px;top:185.30px;width:33.20px;height:12.30px;background:#0a72c6;"></div>
<div class="a" style="left:528.60px;top:192.20px;font-size:7.8px;line-height:8.97px;color:#fff;transform:translate(0,-50%);">Total</div>
<div class="a" style="left:688.35px;top:191.60px;font-size:8px;line-height:9.20px;color:#fff;transform:translate(-50%,-50%);">395</div>
<div class="a" style="left:721.35px;top:191.60px;font-size:8px;line-height:9.20px;color:#fff;transform:translate(-50%,-50%);">430</div>
<div class="a" style="left:750.50px;top:191.60px;font-size:8px;line-height:9.20px;color:#fff;transform:translate(-50%,-50%);">139</div>
<div class="a" style="left:780.00px;top:191.60px;font-size:8px;line-height:9.20px;color:#fff;transform:translate(-50%,-50%);">229</div>
<div class="t" style="left:531px;top:205.55px;font-size:8.8px;letter-spacing:-0.3px;transform:scaleY(1.12);transform-origin:0 8.05px">CHEF DE MENAGE</div>
<div class="ul" style="left:528.2px;top:219px;width:261px"></div>
<svg class="a" style="left:0;top:0;overflow:visible" width="1" height="1">
<path d="M640.18,238.72 A53.5,53.5 0 0 1 672.76,235.81 L668.04,256.78 A32,32 0 0 0 648.55,258.52Z" fill="#a9cbea" stroke="#fff" stroke-width="0.6"/>
<path d="M672.76,235.81 A53.5,53.5 0 0 1 688.87,242.34 L677.67,260.69 A32,32 0 0 0 668.04,256.78Z" fill="#7f7f7f" stroke="#fff" stroke-width="0.6"/>
<path d="M688.87,242.34 A53.5,53.5 0 1 1 640.18,238.72 L648.55,258.52 A32,32 0 1 0 677.67,260.69Z" fill="#0a72c6" stroke="#fff" stroke-width="0.6"/>
</svg>
<div class="a" style="left:662.00px;top:289.30px;font-size:16.5px;line-height:18.97px;color:#1d62a8;font-weight:bold;transform:translate(-50%,-50%);">1.432</div>
<svg class="a" style="left:0;top:0;overflow:visible" width="1" height="1"><polyline points="662.2,236.0 662.2,227.3 558.3,227.3 558.3,244.2" fill="none" stroke="#979cbc" stroke-width="0.9"/></svg>
<div class="a" style="left:559.60px;top:255.40px;font-size:12.5px;line-height:14.37px;color:#7a7a7a;font-weight:bold;transform:translate(-50%,-50%);">10%</div>
<div class="a" style="left:559.60px;top:267.50px;font-size:7.6px;line-height:8.74px;color:#1a6fc0;transform:translate(-50%,-50%);">Grand parent seul</div>
<svg class="a" style="left:0;top:0;overflow:visible" width="1" height="1"><polyline points="688.2,241.5 745.6,241.5 745.6,256.5" fill="none" stroke="#979cbc" stroke-width="0.9"/></svg>
<div class="a" style="left:745.60px;top:265.60px;font-size:12.5px;line-height:14.37px;color:#7a7a7a;font-weight:bold;transform:translate(-50%,-50%);">6%</div>
<div class="a" style="left:745.60px;top:276.50px;font-size:7.6px;line-height:8.74px;color:#1a6fc0;transform:translate(-50%,-50%);">Tuteur seul</div>
<svg class="a" style="left:0;top:0;overflow:visible" width="1" height="1"><polyline points="714.7,288.8 746.4,288.8 746.4,305.7" fill="none" stroke="#979cbc" stroke-width="0.9"/></svg>
<div class="a" style="left:748.30px;top:317.30px;font-size:13px;line-height:14.95px;color:#7a7a7a;font-weight:bold;transform:translate(-50%,-50%);">84%</div>
<div class="a" style="left:748.30px;top:329.40px;font-size:7.6px;line-height:8.74px;color:#1a6fc0;transform:translate(-50%,-50%);">Parent seul</div>
<svg class="a" style="left:541.80px;top:297.00px" width="6.81" height="17.50" viewBox="0 0 7 18"><g fill="#0a72c6"><circle cx="3.5" cy="1.9" r="1.85"/><path d="M1.6 4.2 H5.4 Q6.6 4.2 6.7 5.5 L6.9 11 H5.9 L5.7 10 V18 H3.8 V11.5 H3.2 V18 H1.3 V10 L1.1 11 H0.1 L0.3 5.5 Q0.4 4.2 1.6 4.2Z"/></g></svg>
<svg class="a" style="left:563.60px;top:297.00px" width="6.81" height="17.50" viewBox="0 0 7 18"><g fill="#7f7f7f"><circle cx="3.5" cy="1.9" r="1.8"/><path d="M2 4.2 H5 Q5.9 4.3 6.1 5.3 L7 10.6 L6.1 10.8 L5.5 8.4 L6.6 12.6 H5 V18 H3.9 V12.6 H3.1 V18 H2 V12.6 H0.4 L1.5 8.4 L0.9 10.8 L0 10.6 L0.9 5.3 Q1.1 4.3 2 4.2Z"/></g></svg>
<div class="a" style="left:545.20px;top:325.00px;font-size:9.5px;line-height:10.92px;color:#7a7a7a;font-weight:bold;transform:translate(-50%,-50%);">10%</div>
<div class="a" style="left:569.20px;top:325.00px;font-size:9.5px;line-height:10.92px;color:#7a7a7a;font-weight:bold;transform:translate(-50%,-50%);">90%</div>
<div class="t" style="left:804px;top:53.25px;font-size:8.8px;letter-spacing:-0.37px;transform:scaleY(1.12);transform-origin:0 8.05px">PERSONNE AGEE</div>
<div class="ul" style="left:802.8px;top:65px;width:217px"></div>
<div class="bx" style="left:890.00px;top:81.20px;width:45.40px;height:24.80px;background:#0a72c6;"></div>
<div class="bx" style="left:940.80px;top:81.20px;width:39.30px;height:24.80px;background:#595959;"></div>
<div class="a" style="left:912.70px;top:93.60px;font-size:8px;line-height:9.20px;color:#fff;transform:translate(-50%,-50%);">330</div>
<div class="a" style="left:960.45px;top:93.60px;font-size:8px;line-height:9.20px;color:#fff;transform:translate(-50%,-50%);">446</div>
<div class="bx" style="left:873.70px;top:114.30px;width:61.70px;height:25.10px;background:#0a72c6;"></div>
<div class="bx" style="left:940.80px;top:114.30px;width:54.80px;height:25.10px;background:#595959;"></div>
<div class="a" style="left:904.55px;top:126.85px;font-size:8px;line-height:9.20px;color:#fff;transform:translate(-50%,-50%);">447</div>
<div class="a" style="left:968.20px;top:126.85px;font-size:8px;line-height:9.20px;color:#fff;transform:translate(-50%,-50%);">621</div>
<div class="bx" style="left:884.00px;top:147.40px;width:51.40px;height:25.10px;background:#0a72c6;"></div>
<div class="bx" style="left:940.80px;top:147.40px;width:59.50px;height:25.10px;background:#595959;"></div>
<div class="a" style="left:909.70px;top:159.95px;font-size:8px;line-height:9.20px;color:#fff;transform:translate(-50%,-50%);">374</div>
<div class="a" style="left:970.55px;top:159.95px;font-size:8px;line-height:9.20px;color:#fff;transform:translate(-50%,-50%);">678</div>
<div class="a" style="left:809.50px;top:90.80px;font-size:7.8px;line-height:8.97px;color:#1a6fc0;transform:translate(0,-50%);">Incapacité de prendre</div>
<div class="a" style="left:809.50px;top:99.80px;font-size:7.8px;line-height:8.97px;color:#1a6fc0;transform:translate(0,-50%);">soin d'elle-même</div>
<div class="a" style="left:809.50px;top:123.70px;font-size:7.8px;line-height:8.97px;color:#1a6fc0;transform:translate(0,-50%);">Avec des enfants</div>
<div class="a" style="left:809.50px;top:133.30px;font-size:7.8px;line-height:8.97px;color:#1a6fc0;transform:translate(0,-50%);">mineurs</div>
<div class="a" style="left:809.50px;top:160.20px;font-size:7.8px;line-height:8.97px;color:#1a6fc0;transform:translate(0,-50%);">Isolée</div>
<svg class="a" style="left:920.10px;top:176.30px" width="7.00" height="18.00" viewBox="0 0 7 18"><g fill="#0a72c6"><circle cx="3.5" cy="1.9" r="1.85"/><path d="M1.6 4.2 H5.4 Q6.6 4.2 6.7 5.5 L6.9 11 H5.9 L5.7 10 V18 H3.8 V11.5 H3.2 V18 H1.3 V10 L1.1 11 H0.1 L0.3 5.5 Q0.4 4.2 1.6 4.2Z"/></g></svg>
<svg class="a" style="left:952.18px;top:176.30px" width="7.23" height="18.60" viewBox="0 0 7 18"><g fill="#595959"><circle cx="3.5" cy="1.9" r="1.8"/><path d="M2 4.2 H5 Q5.9 4.3 6.1 5.3 L7 10.6 L6.1 10.8 L5.5 8.4 L6.6 12.6 H5 V18 H3.9 V12.6 H3.1 V18 H2 V12.6 H0.4 L1.5 8.4 L0.9 10.8 L0 10.6 L0.9 5.3 Q1.1 4.3 2 4.2Z"/></g></svg>
<div class="t" style="left:804px;top:205.55px;font-size:8.8px;letter-spacing:-0.18px;transform:scaleY(1.12);transform-origin:0 8.05px">ENFANTS EN SITUATION DE SEPARATION FAMILIALE</div>
<div class="ul" style="left:803px;top:218px;width:210px"></div>
<div class="bx" style="left:799.50px;top:55.00px;width:2px;height:281.00px;background:#9a9fc2"></div>
<div class="bx" style="left:888.90px;top:225.20px;width:48.50px;height:25.30px;background:#0a72c6;"></div>
<div class="bx" style="left:941.90px;top:225.20px;width:71.80px;height:25.30px;background:#595959;"></div>
<div class="a" style="left:913.15px;top:237.85px;font-size:8px;line-height:9.20px;color:#fff;transform:translate(-50%,-50%);">705</div>
<div class="a" style="left:977.80px;top:237.85px;font-size:8px;line-height:9.20px;color:#fff;transform:translate(-50%,-50%);">912</div>
<div class="bx" style="left:893.80px;top:291.60px;width:43.60px;height:25.30px;background:#0a72c6;"></div>
<div class="bx" style="left:941.90px;top:291.60px;width:61.10px;height:25.30px;background:#595959;"></div>
<div class="a" style="left:915.60px;top:304.25px;font-size:8px;line-height:9.20px;color:#fff;transform:translate(-50%,-50%);">634</div>
<div class="a" style="left:972.45px;top:304.25px;font-size:8px;line-height:9.20px;color:#fff;transform:translate(-50%,-50%);">839</div>
<div class="bx" style="left:932.50px;top:258.70px;width:4.90px;height:24.60px;background:#0a72c6;"></div>
<div class="bx" style="left:941.90px;top:258.70px;width:3.00px;height:24.60px;background:#595959;"></div>
<div class="a" style="left:924.20px;top:270.00px;font-size:8px;line-height:9.20px;color:#222;transform:translate(-50%,-50%);">75</div>
<div class="a" style="left:955.30px;top:270.00px;font-size:8px;line-height:9.20px;color:#222;transform:translate(-50%,-50%);">39</div>
<div class="a" style="left:807.30px;top:239.70px;font-size:7.8px;line-height:8.97px;color:#1a6fc0;transform:translate(0,-50%);">Enfant séparé</div>
<div class="a" style="left:807.30px;top:270.60px;font-size:7.8px;line-height:8.97px;color:#1a6fc0;transform:translate(0,-50%);">Enfant non</div>
<div class="a" style="left:807.30px;top:280.00px;font-size:7.8px;line-height:8.97px;color:#1a6fc0;transform:translate(0,-50%);">accompagné</div>
<div class="a" style="left:809.50px;top:303.50px;font-size:7.8px;line-height:8.97px;color:#1a6fc0;transform:translate(0,-50%);">Enfant en famille</div>
<div class="a" style="left:809.50px;top:311.70px;font-size:7.8px;line-height:8.97px;color:#1a6fc0;transform:translate(0,-50%);">d'accueil</div>
<svg class="a" style="left:913.92px;top:324.20px" width="7.16" height="18.40" viewBox="0 0 7 18"><g fill="#0a72c6"><circle cx="3.5" cy="1.9" r="1.85"/><path d="M1.6 4.2 H5.4 Q6.6 4.2 6.7 5.5 L6.9 11 H5.9 L5.7 10 V18 H3.8 V11.5 H3.2 V18 H1.3 V10 L1.1 11 H0.1 L0.3 5.5 Q0.4 4.2 1.6 4.2Z"/></g></svg>
<svg class="a" style="left:959.04px;top:324.20px" width="7.31" height="18.80" viewBox="0 0 7 18"><g fill="#595959"><circle cx="3.5" cy="1.9" r="1.8"/><path d="M2 4.2 H5 Q5.9 4.3 6.1 5.3 L7 10.6 L6.1 10.8 L5.5 8.4 L6.6 12.6 H5 V18 H3.9 V12.6 H3.1 V18 H2 V12.6 H0.4 L1.5 8.4 L0.9 10.8 L0 10.6 L0.9 5.3 Q1.1 4.3 2 4.2Z"/></g></svg>
<div class="t" style="left:321.7px;top:351.15px;font-size:8.8px;letter-spacing:-0.18px;transform:scaleY(1.12);transform-origin:0 8.05px">CONDITION MEDICALE</div>
<div class="ul" style="left:320.6px;top:363.3px;width:342px"></div>
<div class="bx" style="left:671.70px;top:355.00px;width:2px;height:154.00px;background:#9a9fc2"></div>
<div class="bx" style="left:316.00px;top:488.60px;width:356.00px;height:1px;background:#555"></div>
<div class="bx" style="left:322.90px;top:484.40px;width:18.80px;height:4.70px;background:#0a66b0;"></div>
<div class="bx" style="left:344.00px;top:396.40px;width:16.50px;height:92.70px;background:#7f7f7f;"></div>
<div class="bx" style="left:363.00px;top:377.10px;width:17.70px;height:112.00px;background:#fb7d88;"></div>
<div class="bx" style="left:382.80px;top:483.70px;width:17.60px;height:5.40px;background:#7aaed8;"></div>
<div class="a" style="left:332.30px;top:476.50px;font-size:7.6px;line-height:8.74px;color:#444;transform:translate(-50%,-50%);">15</div>
<div class="a" style="left:352.30px;top:388.30px;font-size:8px;line-height:9.20px;color:#333;transform:translate(-50%,-50%);">279</div>
<div class="a" style="left:372.20px;top:384.80px;font-size:8px;line-height:9.20px;color:#c0303c;transform:translate(-50%,-50%);">335</div>
<div class="a" style="left:391.00px;top:476.50px;font-size:7.6px;line-height:8.74px;color:#444;transform:translate(-50%,-50%);">16</div>
<div class="bx" style="left:432.10px;top:411.20px;width:17.60px;height:77.90px;background:#7f7f7f;"></div>
<div class="bx" style="left:451.40px;top:429.20px;width:18.30px;height:59.90px;background:#fb7d88;"></div>
<div class="bx" style="left:470.90px;top:487.50px;width:18.80px;height:1.60px;background:#7aaed8;"></div>
<div class="a" style="left:419.20px;top:482.10px;font-size:7.6px;line-height:8.74px;color:#444;transform:translate(-50%,-50%);">0</div>
<div class="a" style="left:440.30px;top:403.00px;font-size:8px;line-height:9.20px;color:#333;transform:translate(-50%,-50%);">225</div>
<div class="a" style="left:460.30px;top:436.50px;font-size:8px;line-height:9.20px;color:#c0303c;transform:translate(-50%,-50%);">180</div>
<div class="a" style="left:479.10px;top:478.80px;font-size:7.6px;line-height:8.74px;color:#444;transform:translate(-50%,-50%);">6</div>
<div class="bx" style="left:499.90px;top:466.10px;width:19.00px;height:23.00px;background:#0a66b0;"></div>
<div class="bx" style="left:520.50px;top:472.20px;width:17.60px;height:16.90px;background:#7f7f7f;"></div>
<div class="bx" style="left:540.00px;top:478.60px;width:18.10px;height:10.50px;background:#fb7d88;"></div>
<div class="a" style="left:508.80px;top:457.40px;font-size:8px;line-height:9.20px;color:#333;transform:translate(-50%,-50%);">70</div>
<div class="a" style="left:528.80px;top:464.10px;font-size:8px;line-height:9.20px;color:#333;transform:translate(-50%,-50%);">53</div>
<div class="a" style="left:548.70px;top:482.40px;font-size:8px;line-height:9.20px;color:#c0303c;transform:translate(-50%,-50%);">34</div>
<div class="a" style="left:568.70px;top:481.00px;font-size:7.6px;line-height:8.74px;color:#444;transform:translate(-50%,-50%);">2</div>
<div class="bx" style="left:588.20px;top:474.30px;width:19.20px;height:14.80px;background:#0a66b0;"></div>
<div class="bx" style="left:609.30px;top:474.80px;width:16.90px;height:14.30px;background:#7f7f7f;"></div>
<div class="bx" style="left:628.60px;top:483.30px;width:18.30px;height:5.80px;background:#fb7d88;"></div>
<div class="a" style="left:597.30px;top:467.00px;font-size:8px;line-height:9.20px;color:#333;transform:translate(-50%,-50%);">46</div>
<div class="a" style="left:618.00px;top:467.00px;font-size:8px;line-height:9.20px;color:#333;transform:translate(-50%,-50%);">49</div>
<div class="a" style="left:638.40px;top:478.80px;font-size:7.6px;line-height:8.74px;color:#444;transform:translate(-50%,-50%);">9</div>
<div class="a" style="left:656.70px;top:482.10px;font-size:7.6px;line-height:8.74px;color:#444;transform:translate(-50%,-50%);">0</div>
<div class="a" style="left:362.80px;top:497.50px;font-size:7.8px;line-height:8.97px;color:#222;transform:translate(-50%,-50%);">Femmes</div>
<div class="a" style="left:450.90px;top:497.50px;font-size:7.8px;line-height:8.97px;color:#222;transform:translate(-50%,-50%);">Hommes</div>
<div class="a" style="left:538.10px;top:497.50px;font-size:7.8px;line-height:8.97px;color:#222;transform:translate(-50%,-50%);">Filles</div>
<div class="a" style="left:627.40px;top:497.50px;font-size:7.8px;line-height:8.97px;color:#222;transform:translate(-50%,-50%);">Garcons</div>
<div class="bx" style="left:574.50px;top:375.30px;width:6.20px;height:6.00px;background:#0a66b0;"></div>
<div class="a" style="left:584.00px;top:378.30px;font-size:6.6px;line-height:7.59px;color:#1a6fc0;transform:translate(0,-50%);">Malnutrition</div>
<div class="bx" style="left:574.50px;top:385.40px;width:6.20px;height:6.00px;background:#7aaed8;"></div>
<div class="a" style="left:584.00px;top:388.40px;font-size:6.6px;line-height:7.59px;color:#1a6fc0;transform:translate(0,-50%);">Condition médicale critique</div>
<div class="bx" style="left:574.50px;top:395.50px;width:6.20px;height:6.00px;background:#7f7f7f;"></div>
<div class="a" style="left:584.00px;top:398.50px;font-size:6.6px;line-height:7.59px;color:#1a6fc0;transform:translate(0,-50%);">Autre</div>
<div class="bx" style="left:574.50px;top:405.60px;width:6.20px;height:6.00px;background:#fb7d88;"></div>
<div class="a" style="left:584.00px;top:408.60px;font-size:6.6px;line-height:7.59px;color:#1a6fc0;transform:translate(0,-50%);">Maladie chronique</div>
<div class="t" style="left:677.5px;top:350.65px;font-size:8.8px;letter-spacing:-0.16px;transform:scaleY(1.12);transform-origin:0 8.05px">ENFANTS A RISQUE</div>
<div class="ul" style="left:675.5px;top:363.5px;width:340.5px"></div>
<div class="bx" style="left:675.50px;top:494.20px;width:334.80px;height:1px;background:#555"></div>
<div class="bx" style="left:689.40px;top:398.90px;width:26.60px;height:95.80px;background:#595959;"></div>
<div class="a" style="left:702.30px;top:391.20px;font-size:8px;line-height:9.20px;color:#333;transform:translate(-50%,-50%);">48</div>
<div class="a" style="left:731.70px;top:485.50px;font-size:7.6px;line-height:8.74px;color:#444;transform:translate(-50%,-50%);">0</div>
<div class="bx" style="left:772.70px;top:456.40px;width:26.60px;height:38.30px;background:#595959;"></div>
<div class="a" style="left:786.10px;top:448.40px;font-size:8px;line-height:9.20px;color:#333;transform:translate(-50%,-50%);">19</div>
<div class="a" style="left:815.00px;top:485.50px;font-size:7.6px;line-height:8.74px;color:#444;transform:translate(-50%,-50%);">0</div>
<div class="bx" style="left:856.20px;top:490.40px;width:26.60px;height:4.30px;background:#595959;"></div>
<div class="a" style="left:869.80px;top:483.20px;font-size:8px;line-height:9.20px;color:#333;transform:translate(-50%,-50%);">2</div>
<div class="bx" style="left:885.30px;top:492.40px;width:27.30px;height:2.30px;background:#0a72c6;"></div>
<div class="a" style="left:899.20px;top:484.40px;font-size:8px;line-height:9.20px;color:#333;transform:translate(-50%,-50%);">1</div>
<div class="a" style="left:953.10px;top:485.50px;font-size:7.6px;line-height:8.74px;color:#444;transform:translate(-50%,-50%);">0</div>
<div class="bx" style="left:969.30px;top:478.70px;width:26.80px;height:16.00px;background:#0a72c6;"></div>
<div class="a" style="left:983.00px;top:470.70px;font-size:8px;line-height:9.20px;color:#333;transform:translate(-50%,-50%);">8</div>
<div class="a" style="left:717.30px;top:503.00px;font-size:7.6px;line-height:8.74px;color:#222;transform:translate(-50%,-50%);">Enfant parent</div>
<div class="a" style="left:800.60px;top:503.00px;font-size:7.6px;line-height:8.74px;color:#222;transform:translate(-50%,-50%);">Mineure porteuse d'une</div>
<div class="a" style="left:800.60px;top:511.00px;font-size:7.6px;line-height:8.74px;color:#222;transform:translate(-50%,-50%);">grossesse</div>
<div class="a" style="left:884.80px;top:503.00px;font-size:7.6px;line-height:8.74px;color:#222;transform:translate(-50%,-50%);">Enfant chef de famille</div>
<div class="a" style="left:968.80px;top:503.00px;font-size:7.6px;line-height:8.74px;color:#222;transform:translate(-50%,-50%);">Enfant en conflit avec la</div>
<div class="a" style="left:968.80px;top:511.00px;font-size:7.6px;line-height:8.74px;color:#222;transform:translate(-50%,-50%);">loi</div>
<div class="bx" style="left:932.00px;top:377.50px;width:7.00px;height:6.00px;background:#0a72c6;"></div>
<div class="a" style="left:942.00px;top:380.50px;font-size:6.6px;line-height:7.59px;color:#1a6fc0;transform:translate(0,-50%);">Garçon</div>
<div class="bx" style="left:932.00px;top:386.70px;width:7.00px;height:6.00px;background:#595959;"></div>
<div class="a" style="left:942.00px;top:389.70px;font-size:6.6px;line-height:7.59px;color:#1a6fc0;transform:translate(0,-50%);">Fille</div>
<div class="t" style="left:321.8px;top:515.05px;font-size:8.8px;letter-spacing:-0.3px;transform:scaleY(1.12);transform-origin:0 8.05px">PERSONNES DANS LE BESOIN IDENTIFIÉES ET LA RÉPONSE APPORTÉE PAR THÉMATIQUE</div>
<div class="ul" style="left:319.7px;top:528px;width:692px"></div>
<div class="bx" style="left:316.00px;top:684.80px;width:693.80px;height:1px;background:#444"></div>
<div class="bx" style="left:325.50px;top:660.80px;width:31.30px;height:24.50px;background:#8dbcf6;"></div>
<div class="a" style="left:341.15px;top:694.00px;font-size:7.6px;line-height:8.74px;color:#222;transform:translate(-50%,-50%);">AGR</div>
<div class="a" style="left:341.15px;top:652.20px;font-size:8px;line-height:9.20px;color:#333;transform:translate(-50%,-50%);">442</div>
<div class="bx" style="left:375.50px;top:649.40px;width:31.20px;height:35.90px;background:#8dbcf6;"></div>
<div class="bx" style="left:378.30px;top:662.30px;width:25.60px;height:23.00px;background:#0a6cc4;"></div>
<div class="a" style="left:391.10px;top:694.00px;font-size:7.6px;line-height:8.74px;color:#222;transform:translate(-50%,-50%);">Soins</div>
<div class="a" style="left:391.10px;top:701.20px;font-size:7.6px;line-height:8.74px;color:#222;transform:translate(-50%,-50%);">médicaux</div>
<div class="a" style="left:391.10px;top:639.50px;font-size:8px;line-height:9.20px;color:#333;transform:translate(-50%,-50%);">625</div>
<div class="bx" style="left:424.90px;top:656.90px;width:31.20px;height:28.40px;background:#8dbcf6;"></div>
<div class="bx" style="left:427.70px;top:658.40px;width:25.60px;height:26.90px;background:#0a6cc4;"></div>
<div class="a" style="left:440.50px;top:694.00px;font-size:7.6px;line-height:8.74px;color:#222;transform:translate(-50%,-50%);">Kit de Dignité</div>
<div class="a" style="left:440.50px;top:646.80px;font-size:8px;line-height:9.20px;color:#333;transform:translate(-50%,-50%);">469</div>
<div class="bx" style="left:474.30px;top:574.10px;width:30.70px;height:111.20px;background:#8dbcf6;"></div>
<div class="bx" style="left:477.10px;top:677.30px;width:25.10px;height:8.00px;background:#0a6cc4;"></div>
<div class="a" style="left:489.65px;top:694.00px;font-size:7.6px;line-height:8.74px;color:#222;transform:translate(-50%,-50%);">Cash</div>
<div class="a" style="left:489.65px;top:701.20px;font-size:7.6px;line-height:8.74px;color:#222;transform:translate(-50%,-50%);">multiusage</div>
<div class="a" style="left:489.65px;top:568.90px;font-size:8px;line-height:9.20px;color:#333;transform:translate(-50%,-50%);">1043</div>
<div class="bx" style="left:524.10px;top:656.30px;width:31.10px;height:29.00px;background:#8dbcf6;"></div>
<div class="bx" style="left:526.90px;top:679.90px;width:25.50px;height:5.40px;background:#0a6cc4;"></div>
<div class="a" style="left:539.65px;top:694.00px;font-size:7.6px;line-height:8.74px;color:#222;transform:translate(-50%,-50%);">Abris et</div>
<div class="a" style="left:539.65px;top:701.20px;font-size:7.6px;line-height:8.74px;color:#222;transform:translate(-50%,-50%);">toilette</div>
<div class="a" style="left:539.65px;top:647.70px;font-size:8px;line-height:9.20px;color:#333;transform:translate(-50%,-50%);">520</div>
<div class="bx" style="left:573.50px;top:644.50px;width:31.10px;height:40.80px;background:#8dbcf6;"></div>
<div class="bx" style="left:576.30px;top:677.80px;width:25.50px;height:7.50px;background:#0a6cc4;"></div>
<div class="a" style="left:589.05px;top:694.00px;font-size:7.6px;line-height:8.74px;color:#222;transform:translate(-50%,-50%);">Articles</div>
<div class="a" style="left:589.05px;top:701.20px;font-size:7.6px;line-height:8.74px;color:#222;transform:translate(-50%,-50%);">ménagers</div>
<div class="a" style="left:589.05px;top:636.50px;font-size:8px;line-height:9.20px;color:#333;transform:translate(-50%,-50%);">717</div>
<div class="bx" style="left:622.40px;top:682.00px;width:31.80px;height:3.30px;background:#8dbcf6;"></div>
<div class="bx" style="left:625.20px;top:658.00px;width:26.20px;height:27.30px;background:#0a6cc4;"></div>
<div class="a" style="left:638.30px;top:694.00px;font-size:7.6px;line-height:8.74px;color:#222;transform:translate(-50%,-50%);">Autres</div>
<div class="bx" style="left:672.30px;top:659.10px;width:31.30px;height:26.20px;background:#8dbcf6;"></div>
<div class="a" style="left:687.95px;top:694.00px;font-size:7.6px;line-height:8.74px;color:#222;transform:translate(-50%,-50%);">Allocations</div>
<div class="a" style="left:687.95px;top:649.80px;font-size:8px;line-height:9.20px;color:#333;transform:translate(-50%,-50%);">464</div>
<div class="bx" style="left:721.50px;top:682.10px;width:31.10px;height:3.20px;background:#8dbcf6;"></div>
<div class="a" style="left:737.05px;top:694.00px;font-size:7.6px;line-height:8.74px;color:#222;transform:translate(-50%,-50%);">Appareil PBS</div>
<div class="a" style="left:737.05px;top:674.80px;font-size:8px;line-height:9.20px;color:#333;transform:translate(-50%,-50%);">53</div>
<div class="bx" style="left:771.00px;top:683.60px;width:31.00px;height:1.70px;background:#8dbcf6;"></div>
<div class="a" style="left:786.50px;top:694.00px;font-size:7.6px;line-height:8.74px;color:#222;transform:translate(-50%,-50%);">Abris</div>
<div class="bx" style="left:820.70px;top:680.60px;width:31.40px;height:4.70px;background:#8dbcf6;"></div>
<div class="a" style="left:836.40px;top:694.00px;font-size:7.6px;line-height:8.74px;color:#222;transform:translate(-50%,-50%);">Formation</div>
<div class="a" style="left:836.40px;top:670.90px;font-size:8px;line-height:9.20px;color:#333;transform:translate(-50%,-50%);">93</div>
<div class="bx" style="left:870.80px;top:680.60px;width:31.10px;height:4.70px;background:#8dbcf6;"></div>
<div class="a" style="left:886.35px;top:694.00px;font-size:7.6px;line-height:8.74px;color:#222;transform:translate(-50%,-50%);">Kit Bébé</div>
<div class="a" style="left:886.35px;top:669.80px;font-size:8px;line-height:9.20px;color:#333;transform:translate(-50%,-50%);">92</div>
<div class="bx" style="left:919.90px;top:658.20px;width:31.70px;height:27.10px;background:#8dbcf6;"></div>
<div class="a" style="left:935.75px;top:694.00px;font-size:7.6px;line-height:8.74px;color:#222;transform:translate(-50%,-50%);">Kit alimentaire</div>
<div class="a" style="left:935.75px;top:644.90px;font-size:8px;line-height:9.20px;color:#333;transform:translate(-50%,-50%);">480</div>
<div class="a" style="left:985.15px;top:694.00px;font-size:7.6px;line-height:8.74px;color:#222;transform:translate(-50%,-50%);">Transport</div>
<div class="a" style="left:341.10px;top:677.30px;font-size:7.6px;line-height:8.74px;color:#fff;transform:translate(-50%,-50%);">0</div>
<div class="a" style="left:391.60px;top:669.60px;font-size:8px;line-height:9.20px;color:#fff;transform:translate(-50%,-50%);">414</div>
<div class="a" style="left:441.00px;top:662.20px;font-size:8px;line-height:9.20px;color:#fff;transform:translate(-50%,-50%);">456</div>
<div class="a" style="left:488.30px;top:668.50px;font-size:8px;line-height:9.20px;color:#333;transform:translate(-50%,-50%);">144</div>
<div class="a" style="left:552.60px;top:673.90px;font-size:8px;line-height:9.20px;color:#333;transform:translate(-50%,-50%);">103</div>
<div class="a" style="left:588.70px;top:677.80px;font-size:8px;line-height:9.20px;color:#fff;transform:translate(-50%,-50%);">37</div>
<div class="a" style="left:638.10px;top:673.70px;font-size:8px;line-height:9.20px;color:#fff;transform:translate(-50%,-50%);">88</div>
<div class="a" style="left:638.10px;top:651.60px;font-size:8px;line-height:9.20px;color:#333;transform:translate(-50%,-50%);">485</div>
<div class="bx" style="left:391.20px;top:644.00px;width:0.8px;height:5.40px;background:#999"></div>
<div class="bx" style="left:440.60px;top:651.30px;width:0.8px;height:5.60px;background:#999"></div>
<div class="bx" style="left:687.50px;top:654.30px;width:0.8px;height:4.80px;background:#999"></div>
<div class="bx" style="left:934.40px;top:649.50px;width:0.8px;height:8.70px;background:#999"></div>
<div class="bx" style="left:736.80px;top:679.00px;width:0.8px;height:3.10px;background:#999"></div>
<div class="bx" style="left:885.90px;top:674.50px;width:0.8px;height:6.10px;background:#999"></div>
<div class="a" style="left:695.50px;top:680.60px;font-size:7.6px;line-height:8.74px;color:#444;transform:translate(-50%,-50%);">0</div>
<div class="a" style="left:749.40px;top:677.30px;font-size:7.6px;line-height:8.74px;color:#444;transform:translate(-50%,-50%);">0</div>
<div class="a" style="left:784.90px;top:675.40px;font-size:7.6px;line-height:8.74px;color:#444;transform:translate(-50%,-50%);">10</div>
<div class="a" style="left:797.70px;top:681.20px;font-size:7.6px;line-height:8.74px;color:#444;transform:translate(-50%,-50%);">0</div>
<div class="a" style="left:849.30px;top:676.30px;font-size:7.6px;line-height:8.74px;color:#444;transform:translate(-50%,-50%);">0</div>
<div class="a" style="left:896.60px;top:677.80px;font-size:7.6px;line-height:8.74px;color:#444;transform:translate(-50%,-50%);">0</div>
<div class="a" style="left:934.80px;top:677.90px;font-size:8px;line-height:9.20px;color:#333;transform:translate(-50%,-50%);">3</div>
<div class="a" style="left:982.40px;top:673.60px;font-size:7.6px;line-height:8.74px;color:#444;transform:translate(-50%,-50%);">0</div>
<div class="bx" style="left:792.40px;top:543.20px;width:6.50px;height:6.00px;background:#8dbcf6;"></div>
<div class="a" style="left:803.00px;top:546.20px;font-size:7px;line-height:8.05px;color:#222;transform:translate(0,-50%);"><b>6.023</b> Dans le besoin</div>
<div class="bx" style="left:792.40px;top:557.50px;width:6.50px;height:6.00px;background:#0a6cc4;"></div>
<div class="a" style="left:803.00px;top:560.50px;font-size:7px;line-height:8.05px;color:#222;transform:translate(0,-50%);"><b>1.755</b> Réponse apportée</div>
<!-- vertical separators -->
<div class="vs" style="left:315px;top:56px;height:654px"></div>
<div class="vs" style="left:522.6px;top:56px;height:283px"></div>
<!-- footer -->
<div class="bx" style="left:0;top:710.4px;width:1024px;height:1.8px;background:#484848"></div>
<div class="a" style="left:555.7px;top:713px;font-size:6.9px;line-height:8px;color:#555">Date de mise à jour : 15 juillet 2025, Source : HCR RDC Pour plus d'information, veuillez contacter : Gracia Bienvenu Kalombo (bienvenug@unhcr.org)</div>
</body>
</html>
